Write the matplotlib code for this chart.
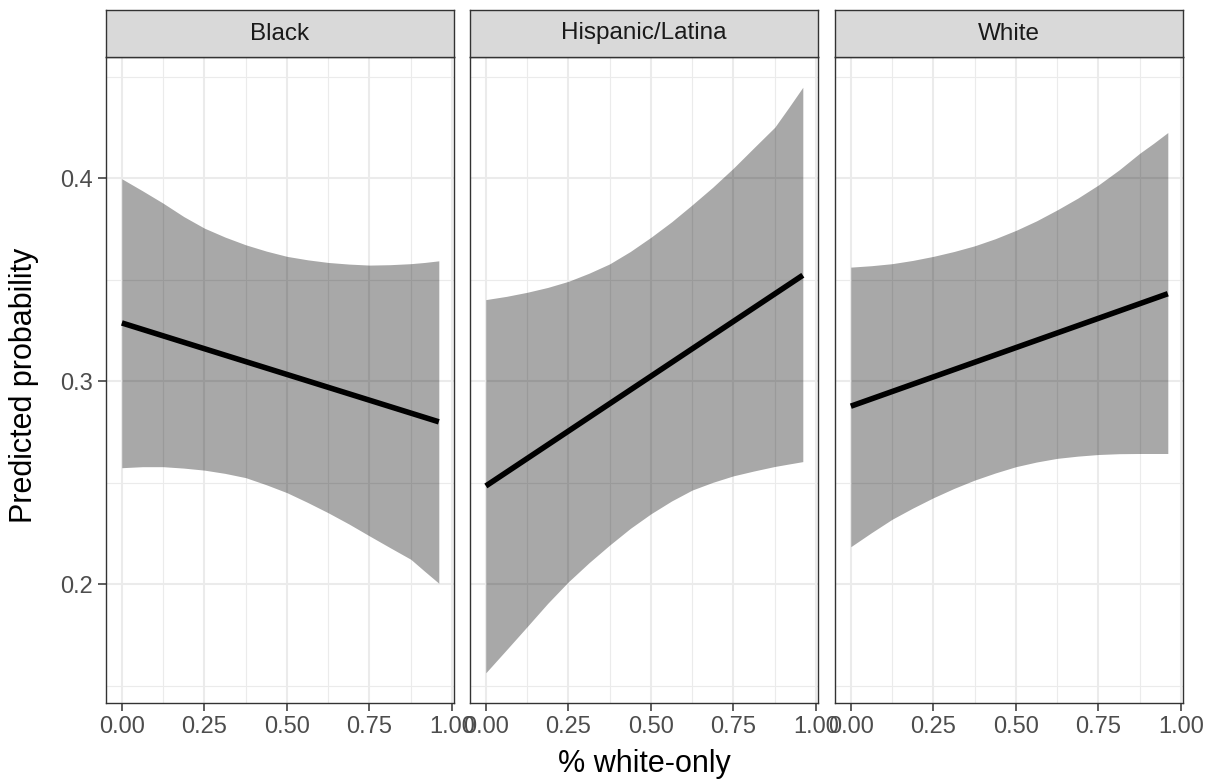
import numpy as np
import matplotlib
matplotlib.use("Agg")
import matplotlib.pyplot as plt

plt.rcParams['font.family'] = ['Liberation Sans', 'DejaVu Sans']

# predicted probabilities by share of white-only, one panel per group
groups = ["Black", "Hispanic/Latina", "White"]
x_grid = [0.0, 0.0625, 0.125, 0.1875, 0.25, 0.3125, 0.375, 0.4375, 0.5,
          0.5625, 0.625, 0.6875, 0.75, 0.8125, 0.875, 0.917, 0.96]
x_fit = [0.0, 0.96]

black_hi = [0.3997, 0.3938, 0.3877, 0.3811, 0.3754, 0.3710, 0.3672, 0.3641, 0.3615,
            0.3598, 0.3585, 0.3577, 0.3572, 0.3574, 0.3579, 0.3585, 0.3593]
black_lo = [0.2574, 0.2579, 0.2579, 0.2572, 0.2562, 0.2546, 0.2525, 0.2490, 0.2451,
            0.2403, 0.2352, 0.2297, 0.2238, 0.2180, 0.2123, 0.2064, 0.2005]
black_fit = [0.3287, 0.2800]

hisp_hi = [0.3402, 0.3418, 0.3438, 0.3462, 0.3492, 0.3532, 0.3578, 0.3639, 0.3709,
           0.3785, 0.3869, 0.3956, 0.4050, 0.4151, 0.4251, 0.4347, 0.4448]
hisp_lo = [0.1564, 0.1677, 0.1791, 0.1906, 0.2012, 0.2106, 0.2193, 0.2275, 0.2347,
           0.2410, 0.2464, 0.2502, 0.2534, 0.2558, 0.2580, 0.2592, 0.2604]
hisp_fit = [0.2484, 0.3522]

white_hi = [0.3562, 0.3569, 0.3579, 0.3595, 0.3615, 0.3639, 0.3667, 0.3702, 0.3743,
            0.3790, 0.3844, 0.3902, 0.3967, 0.4041, 0.4123, 0.4172, 0.4225]
white_lo = [0.2185, 0.2254, 0.2320, 0.2375, 0.2426, 0.2472, 0.2513, 0.2548, 0.2579,
            0.2602, 0.2620, 0.2631, 0.2639, 0.2643, 0.2644, 0.2644, 0.2644]
white_fit = [0.2877, 0.3431]

fits = [black_fit, hisp_fit, white_fit]
lows = [black_lo, hisp_lo, white_lo]
highs = [black_hi, hisp_hi, white_hi]

x_ticks = [0.0, 0.25, 0.5, 0.75, 1.0]
x_labels = ["0.00", "0.25", "0.50", "0.75", "1.00"]
y_ticks = [0.2, 0.3, 0.4]
y_labels = ["0.2", "0.3", "0.4"]

W, H = 1209, 783
fig = plt.figure(figsize=(W / 100, H / 100), dpi=100)

lefts = [106, 470, 835]
pw = 348
top, bottom = 57, 703
strip_top = 10

x_lo, x_hi = -0.048, 1.006
y_lo, y_hi = 0.1415, 0.4597

for i, g in enumerate(groups):
    ax = fig.add_axes([lefts[i] / W, (H - bottom) / H, pw / W, (bottom - top) / H])
    ax.set_xlim(x_lo, x_hi)
    ax.set_ylim(y_lo, y_hi)

    # minor then major grid
    for v in [0.125, 0.375, 0.625, 0.875]:
        ax.axvline(v, color="#EBEBEB", lw=0.8, zorder=0)
    for v in [0.15, 0.25, 0.35, 0.45]:
        ax.axhline(v, color="#EBEBEB", lw=0.8, zorder=0)
    for v in x_ticks:
        ax.axvline(v, color="#EBEBEB", lw=1.5, zorder=0)
    for v in y_ticks:
        ax.axhline(v, color="#EBEBEB", lw=1.5, zorder=0)

    ax.fill_between(x_grid, lows[i], highs[i], color="black", alpha=0.34,
                    lw=0, zorder=1)
    ax.plot(x_fit, fits[i], color="black", lw=4.0, solid_capstyle="butt", zorder=2)

    ax.set_xticks(x_ticks)
    ax.set_xticklabels(x_labels)
    ax.set_yticks(y_ticks)
    ax.tick_params(axis="both", colors="#333333", labelcolor="#4D4D4D",
                   labelsize=17, width=1.1, length=5.5, pad=4)
    if i == 0:
        ax.set_yticklabels(y_labels)
    else:
        ax.set_yticklabels([])
        ax.tick_params(axis="y", length=0)
    for s in ax.spines.values():
        s.set_color("#333333")
        s.set_linewidth(1.0)

    # facet strip
    sax = fig.add_axes([lefts[i] / W, (H - top) / H, pw / W, (top - strip_top) / H])
    sax.set_facecolor("#D9D9D9")
    sax.set_xticks([])
    sax.set_yticks([])
    for s in sax.spines.values():
        s.set_color("#333333")
        s.set_linewidth(1.0)
    sax.text(0.5, 0.5, g, ha="center", va="center", fontsize=17.5,
             color="#1A1A1A", transform=sax.transAxes)

fig.text((106 + 1183) / 2 / W, 1 - 764 / H, "% white-only", ha="center",
         va="center", fontsize=22, color="black")
fig.text(24 / W, 1 - 385 / H, "Predicted probability", ha="center",
         va="center", rotation=90, fontsize=22, color="black")

fig.savefig("out.png", dpi=100)
